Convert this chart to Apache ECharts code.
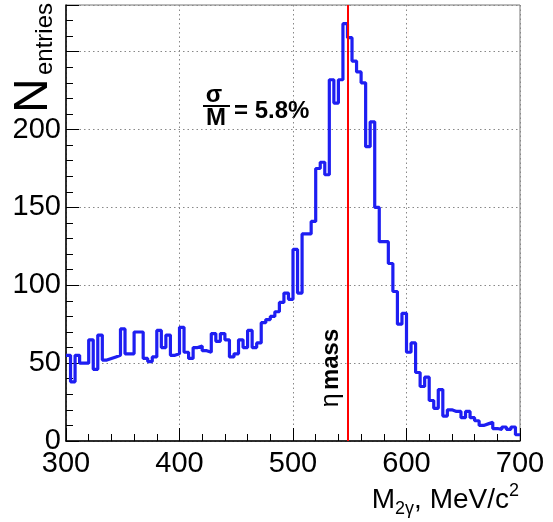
<!DOCTYPE html>
<html>
<head>
<meta charset="utf-8">
<script src="https://cdn.jsdelivr.net/npm/echarts@6/dist/echarts.min.js"></script>
<style>
  html, body { margin: 0; padding: 0; background: #fff; }
  #chart { width: 553px; height: 522px; }
</style>
</head>
<body>
<div id="chart"></div>
<script>
  // two-photon invariant mass, 4 MeV bins from 300 to 700
  var binStart = 300;
  var binWidth = 4;
  var counts = [
    55, 38, 55, 50, 50, 65, 46, 68, 52, 53,
    54, 55, 72, 56, 56, 70, 70, 53, 51, 54,
    71, 60, 68, 55, 56,
    73, 57, 53, 60, 61, 58, 57, 69, 64, 69,
    65, 54, 56, 65, 60, 71, 60, 63, 76, 78,
    80, 83, 89, 95, 91,
    123, 95, 133, 133, 141, 175, 179, 171, 232, 217,
    232, 268, 259, 244, 237, 230, 189, 205, 150, 128,
    128, 114, 96, 75, 82,
    57, 63, 44, 35, 41, 26, 21, 33, 16, 20,
    19, 19, 15, 19, 15, 13, 10, 11, 12, 8,
    7.5, 9, 7.5, 9, 4
  ];
  var xTicks = [300, 400, 500, 600, 700];
  var yTicks = [0, 50, 100, 150, 200];
  var etaMass = 547.9;

  var FONT = 'Liberation Sans';

  var histData = counts.map(function (c, i) {
    return [binStart + i * binWidth, c];
  });
  // close the last bin
  histData.push([binStart + counts.length * binWidth, counts[counts.length - 1]]);

  var chart = echarts.init(document.getElementById('chart'));

  var option = {
    animation: false,
    backgroundColor: '#fff',
    grid: {
      left: 66, right: 33, top: 5, bottom: 81,
      show: true, borderColor: '#777', borderWidth: 1
    },
    xAxis: {
      type: 'value',
      min: xTicks[0],
      max: xTicks[xTicks.length - 1],
      interval: 100,
      axisLine: { onZero: false, lineStyle: { color: '#000', width: 1.5 } },
      axisTick: { inside: true, length: 13, lineStyle: { color: '#000' } },
      minorTick: { show: true, splitNumber: 5, length: 7, lineStyle: { color: '#000' } },
      axisLabel: { fontSize: 29, color: '#000', margin: 8, fontFamily: FONT },
      splitLine: { show: true, lineStyle: { type: [1.5, 3], color: '#888' } }
    },
    yAxis: {
      type: 'value',
      min: 0,
      max: 280,
      interval: 50,
      axisLine: { lineStyle: { color: '#000', width: 1.5 } },
      axisTick: { inside: true, length: 13, lineStyle: { color: '#000' } },
      minorTick: { show: true, splitNumber: 5, length: 7, lineStyle: { color: '#000' } },
      axisLabel: {
        fontSize: 29, color: '#000', margin: 5, fontFamily: FONT,
        formatter: function (v) { return yTicks.indexOf(v) >= 0 ? String(v) : ''; }
      },
      splitLine: { show: true, lineStyle: { type: [1.5, 3], color: '#888' } }
    },
    graphic: [
      // y axis title  N_entries
      { type: 'text', x: 34, y: 113, rotation: Math.PI / 2,
        style: { text: 'N', fontSize: 48, fontFamily: FONT, fill: '#000', align: 'left', verticalAlign: 'middle' } },
      { type: 'text', x: 45, y: 75, rotation: Math.PI / 2,
        style: { text: 'entries', fontSize: 24, fontFamily: FONT, fill: '#000', align: 'left', verticalAlign: 'middle' } },
      // x axis title
      { type: 'text', x: 519, y: 500,
        style: {
          text: '{m|M}{s|2γ}{m|, MeV/c}{p|2}',
          align: 'right', verticalAlign: 'middle',
          rich: {
            m: { fontSize: 28, fontFamily: FONT, fill: '#000', lineHeight: 36 },
            s: { fontSize: 18, fontFamily: FONT, fill: '#000', verticalAlign: 'bottom', lineHeight: 18 },
            p: { fontSize: 18, fontFamily: FONT, fill: '#000', verticalAlign: 'top', lineHeight: 18 }
          }
        } },
      // resolution annotation
      { type: 'text', x: 214, y: 95,
        style: { text: 'σ', fontSize: 24, fontWeight: 'bold', fontFamily: FONT, fill: '#000', align: 'center', verticalAlign: 'middle' } },
      { type: 'line', shape: { x1: 203, y1: 106, x2: 230, y2: 106 },
        style: { stroke: '#000', lineWidth: 2 } },
      { type: 'text', x: 216, y: 118,
        style: { text: 'M', fontSize: 24, fontWeight: 'bold', fontFamily: FONT, fill: '#000', align: 'center', verticalAlign: 'middle' } },
      { type: 'text', x: 234, y: 111,
        style: { text: '= 5.8%', fontSize: 24, fontWeight: 'bold', fontFamily: FONT, fill: '#000', align: 'left', verticalAlign: 'middle' } },
      // eta mass label along the red line
      { type: 'text', x: 331, y: 368, rotation: Math.PI / 2,
        style: {
          text: '{e|η} {b|mass}',
          align: 'center', verticalAlign: 'middle',
          rich: {
            e: { fontSize: 25, fontFamily: FONT, fill: '#000' },
            b: { fontSize: 24, fontWeight: 'bold', fontFamily: FONT, fill: '#000' }
          }
        } }
    ],
    series: [{
      type: 'line',
      step: 'end',
      data: histData,
      showSymbol: false,
      symbol: 'none',
      lineStyle: { color: '#1e1ef2', width: 3.2 },
      markLine: {
        silent: true,
        symbol: ['none', 'none'],
        label: { show: false },
        lineStyle: { color: '#ff0000', width: 2, type: 'solid' },
        data: [{ xAxis: etaMass }]
      }
    }]
  };

  chart.setOption(option);
</script>
</body>
</html>
